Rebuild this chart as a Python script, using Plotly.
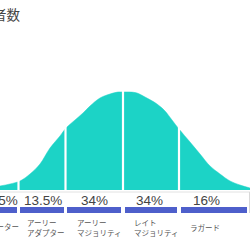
import plotly.graph_objects as go

# ---- data ----
TITLE = "採用者数"
SEGMENTS = ["イノベーター", "アーリー<br>アダプター", "アーリー<br>マジョリティ",
            "レイト<br>マジョリティ", "ラガード"]
SHARES = ["2.5%", "13.5%", "34%", "34%", "16%"]
# segment boundaries along the horizontal axis (pixel-like units)
BOUNDS = [-24, 18.5, 65.5, 123, 179, 248.5]
# bell-curve outline (x, height above baseline)
CURVE_X = [0, 10, 20, 30, 40, 50, 60, 66, 75, 83, 90, 100, 110, 118, 123, 130,
           137, 145, 157, 165, 172, 179, 190, 200, 210, 220, 230, 240, 250]
CURVE_Y = [4, 6, 9, 16, 26, 42, 54, 62, 70, 77, 84, 92, 96, 98, 98, 98,
           97, 93, 86, 79, 70, 61, 48, 36, 24, 16, 9, 5, 2]

TEAL = "#1CD3C6"
BLUE = "#4E5FCB"
TXT = "#444444"

fig = go.Figure()

fig.add_trace(go.Scatter(
    x=CURVE_X, y=CURVE_Y, mode="lines", line=dict(color=TEAL, width=0.5, shape="spline"),
    fill="tozeroy", fillcolor=TEAL, hoverinfo="skip", showlegend=False))

starts = [BOUNDS[i] + 1.8 for i in range(len(SEGMENTS))]
widths = [BOUNDS[i + 1] - BOUNDS[i] - 3.6 for i in range(len(SEGMENTS))]
fig.add_trace(go.Bar(
    orientation="h", y=[-20] * len(SEGMENTS), base=starts, x=widths, width=6,
    marker=dict(color=BLUE, line=dict(width=0)), hoverinfo="skip", showlegend=False))

shapes = []
for b in BOUNDS[1:-1]:
    shapes.append(dict(type="line", x0=b, x1=b, y0=0, y1=110, xref="x", yref="y",
                       line=dict(color="white", width=2.2), layer="above"))
shapes.append(dict(type="line", x0=-5, x1=255, y0=-2, y1=-2, xref="x", yref="y",
                   line=dict(color="#e2e2e2", width=1), layer="below"))
shapes.append(dict(type="line", x0=249.5, x1=249.5, y0=-2, y1=-23, xref="x", yref="y",
                   line=dict(color="#d8d8d8", width=1), layer="below"))

annotations = []
label_x = [2, 42.5, 94.5, 149, 206.5]
for i, s in enumerate(SHARES):
    annotations.append(dict(x=label_x[i], y=-10, xref="x", yref="y", text=s,
                            showarrow=False, xanchor="center", yanchor="middle",
                            font=dict(family="Liberation Sans, Arial", size=13.5, color=TXT)))
for i, name in enumerate(SEGMENTS):
    if i == 0:
        annotations.append(dict(x=21, y=-36, xref="x", yref="y", text=name,
                                showarrow=False, xanchor="right", yanchor="middle",
                                font=dict(family="Noto Sans CJK JP", size=7.5, color="#555")))
    else:
        annotations.append(dict(x=BOUNDS[i] + (6 if i == 1 else 9), y=-37, xref="x", yref="y",
                                text=name, showarrow=False, xanchor="left", yanchor="middle",
                                align="left",
                                font=dict(family="Noto Sans CJK JP", size=7.5, color="#555")))
annotations.append(dict(x=23, y=176, xref="x", yref="y", text=TITLE, showarrow=False,
                        xanchor="right", yanchor="middle",
                        font=dict(family="Noto Sans CJK JP", size=13.5, color=TXT)))

fig.update_layout(
    width=250, height=250, margin=dict(l=0, r=0, t=0, b=0),
    paper_bgcolor="white", plot_bgcolor="white",
    xaxis=dict(range=[0, 250], visible=False, fixedrange=True),
    yaxis=dict(range=[-60, 190], visible=False, fixedrange=True),
    shapes=shapes, annotations=annotations, bargap=0)

fig.write_html("out.html")
